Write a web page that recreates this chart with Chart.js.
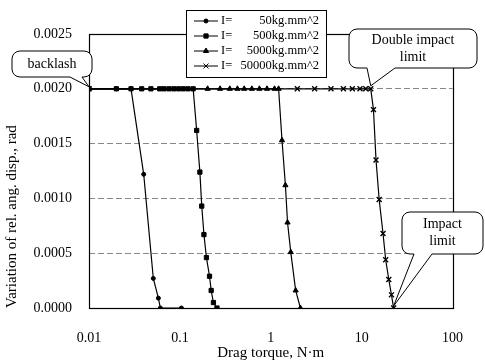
<!DOCTYPE html>
<html>
<head>
<meta charset="utf-8">
<script src="https://cdn.jsdelivr.net/npm/chart.js@4/dist/chart.umd.min.js"></script>
<style>
  html, body { margin: 0; padding: 0; background: #fff; }
  canvas { display: block; }
</style>
</head>
<body>
<canvas id="chart" width="485" height="363"></canvas>
<script>
/* Data */
const torque50 = [0.01, 0.02, 0.029, 0.040, 0.051, 0.058, 0.061, 0.104];
const disp50 = [0.002, 0.002, 0.002, 0.00122, 0.00027, 0.00009, 0, 0];

const torque500 = [0.01, 0.02, 0.029, 0.038, 0.048, 0.060, 0.067, 0.076, 0.086, 0.097, 0.109, 0.123, 0.140,
    0.153, 0.166, 0.174, 0.184, 0.196, 0.212, 0.221, 0.234, 0.256];
const disp500 = [0.002, 0.002, 0.002, 0.002, 0.002, 0.002, 0.002, 0.002, 0.002, 0.002, 0.002, 0.002, 0.002,
    0.00162, 0.00124, 0.00093, 0.00067, 0.00046, 0.00029, 0.00016, 0.00005, 0];

const torque5000 = [0.01, 0.202, 0.277, 0.354, 0.430, 0.51, 0.62, 0.75, 0.91, 1.10, 1.22,
    1.33, 1.45, 1.53, 1.66, 1.88, 2.12];
const disp5000 = [0.002, 0.002, 0.002, 0.002, 0.002, 0.002, 0.002, 0.002, 0.002, 0.002, 0.002,
    0.00153, 0.00112, 0.00078, 0.00051, 0.00016, 0];

const torque50000 = [0.01, 1.96, 3.04, 4.6, 6.3, 7.9, 9.6, 11.1, 12.6,
    13.5, 14.4, 15.6, 17.2, 18.4, 19.9, 21.3, 22.5];
const disp50000 = [0.002, 0.002, 0.002, 0.002, 0.002, 0.002, 0.002, 0.002, 0.002,
    0.00181, 0.00135, 0.00099, 0.00068, 0.00044, 0.00026, 0.00012, 0];

const seriesLabels = ['I=50kg.mm^2', 'I=500kg.mm^2', 'I=5000kg.mm^2', 'I=50000kg.mm^2'];
const xTicks = [0.01, 0.1, 1, 10, 100];
const yTicks = [0, 0.0005, 0.0010, 0.0015, 0.0020, 0.0025];

const FONT = "'Liberation Serif', 'DejaVu Serif', serif";

function points(xs, ys) {
    return xs.map((x, i) => ({x: x, y: ys[i]}));
}

function series(label, xs, ys, style, radius) {
    return {
        label: label,
        data: points(xs, ys),
        borderColor: '#000',
        backgroundColor: '#000',
        borderWidth: 1.2,
        pointStyle: style,
        pointRadius: radius,
        pointBorderWidth: style === 'crossRot' ? 1.4 : 1,
        pointBorderColor: '#000',
        pointBackgroundColor: '#000',
        tension: 0
    };
}

/* rounded callout box with a tail on its bottom edge */
function callout(ctx, box, b1, b2, tip, lines) {
    const {x, y, w, h} = box;
    const r = 8;
    ctx.save();
    ctx.beginPath();
    ctx.moveTo(x + r, y);
    ctx.lineTo(x + w - r, y);
    ctx.arcTo(x + w, y, x + w, y + r, r);
    ctx.lineTo(x + w, y + h - r);
    ctx.arcTo(x + w, y + h, x + w - r, y + h, r);
    ctx.lineTo(b2, y + h);
    ctx.lineTo(tip.x, tip.y);
    ctx.lineTo(b1, y + h);
    ctx.lineTo(x + r, y + h);
    ctx.arcTo(x, y + h, x, y + h - r, r);
    ctx.lineTo(x, y + r);
    ctx.arcTo(x, y, x + r, y, r);
    ctx.closePath();
    ctx.fillStyle = '#fff';
    ctx.fill();
    ctx.strokeStyle = '#000';
    ctx.lineWidth = 1;
    ctx.stroke();
    ctx.fillStyle = '#000';
    ctx.font = '14px ' + FONT;
    ctx.textAlign = 'center';
    ctx.textBaseline = 'middle';
    const lh = 17;
    const cy = y + h / 2 - (lines.length - 1) * lh / 2;
    lines.forEach((t, i) => ctx.fillText(t, x + w / 2, cy + i * lh));
    ctx.restore();
}

const decorations = {
    id: 'decorations',
    afterDraw(chart) {
        const ctx = chart.ctx;
        const a = chart.chartArea;
        const xs = chart.scales.x, ys = chart.scales.y;

        // plot frame
        ctx.save();
        ctx.strokeStyle = '#000';
        ctx.lineWidth = 1.2;
        ctx.strokeRect(Math.round(a.left) + 0.5, Math.round(a.top) + 0.5,
            Math.round(a.right - a.left), Math.round(a.bottom - a.top));
        ctx.restore();

        // callouts
        const tipBack = {x: xs.getPixelForValue(torque50[0]), y: ys.getPixelForValue(disp50[0]) - 2};
        callout(ctx, {x: 12, y: 51, w: 80, h: 26}, 70, 82, tipBack, ['backlash']);

        const tipDouble = {x: xs.getPixelForValue(torque50000[8]), y: ys.getPixelForValue(disp50000[8]) - 3};
        callout(ctx, {x: 349, y: 29, w: 128, h: 39}, 367, 395, tipDouble, ['Double impact', 'limit']);

        const last = torque50000.length - 1;
        const tipImpact = {x: xs.getPixelForValue(torque50000[last]), y: ys.getPixelForValue(disp50000[last]) - 2};
        callout(ctx, {x: 402, y: 212, w: 81, h: 42}, 414, 432, tipImpact, ['Impact', 'limit']);

        // legend
        ctx.save();
        ctx.fillStyle = '#fff';
        ctx.fillRect(186, 10, 140, 67);
        ctx.strokeStyle = '#000';
        ctx.lineWidth = 1;
        ctx.strokeRect(186.5, 10.5, 140, 67);
        ctx.font = '12.5px ' + FONT;
        ctx.textBaseline = 'middle';
        chart.data.datasets.forEach((ds, i) => {
            const yy = 21 + i * 15;
            ctx.strokeStyle = '#000';
            ctx.fillStyle = '#000';
            ctx.lineWidth = 1;
            ctx.beginPath();
            ctx.moveTo(194, yy);
            ctx.lineTo(218, yy);
            ctx.stroke();
            Chart.helpers.drawPoint(ctx, {
                pointStyle: ds.pointStyle,
                radius: ds.pointRadius,
                rotation: 0,
                borderWidth: ds.pointBorderWidth
            }, 206, yy);
            const parts = ds.label.split('=');
            ctx.textAlign = 'left';
            ctx.fillText(parts[0] + '=', 221, yy);
            ctx.textAlign = 'right';
            ctx.fillText(parts[1], 319, yy);
        });
        ctx.restore();
    }
};

const ctx = document.getElementById('chart');
const chart = new Chart(ctx, {
    type: 'line',
    data: {
        datasets: [
            series(seriesLabels[0], torque50, disp50, 'circle', 2),
            series(seriesLabels[1], torque500, disp500, 'rect', 3),
            series(seriesLabels[2], torque5000, disp5000, 'triangle', 3),
            series(seriesLabels[3], torque50000, disp50000, 'crossRot', 3.5)
        ]
    },
    options: {
        responsive: false,
        animation: false,
        layout: {padding: {top: 34, right: 18, bottom: 0, left: 0}},
        plugins: {legend: {display: false}, tooltip: {enabled: false}},
        scales: {
            x: {
                type: 'logarithmic',
                min: 0.01,
                max: 100,
                afterBuildTicks: s => { s.ticks = xTicks.map(v => ({value: v})); },
                afterFit: s => { s.height = 55; },
                ticks: {
                    callback: v => String(v),
                    color: '#000',
                    font: {family: FONT, size: 14},
                    maxRotation: 0,
                    autoSkip: false,
                    padding: 22
                },
                grid: {display: false, drawTicks: false},
                border: {display: false},
                title: {
                    display: true,
                    text: 'Drag torque, N·m',
                    color: '#000',
                    font: {family: FONT, size: 15},
                    padding: {top: 0, bottom: 1}
                }
            },
            y: {
                type: 'linear',
                min: 0,
                max: 0.0025,
                afterBuildTicks: s => { s.ticks = yTicks.map(v => ({value: v})); },
                afterFit: s => { s.width = 89; },
                ticks: {
                    callback: v => v.toFixed(4),
                    color: '#000',
                    font: {family: FONT, size: 14},
                    padding: 17
                },
                grid: {color: '#888', lineWidth: 1, drawTicks: false},
                border: {display: false, dash: [6, 3]},
                title: {
                    display: true,
                    text: 'Variation of rel. ang. disp., rad',
                    align: 'start',
                    color: '#000',
                    font: {family: FONT, size: 15},
                    padding: {top: 3, bottom: 0}
                }
            }
        }
    },
    plugins: [decorations]
});
</script>
</body>
</html>
